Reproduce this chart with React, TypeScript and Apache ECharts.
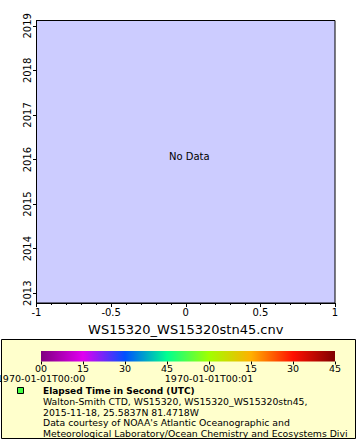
import React, { useEffect, useRef } from "react";
import * as echarts from "echarts";

const xTitle = "WS15320_WS15320stn45.cnv";
const xMin = -1;
const xMax = 1;
const yearTicks = [2013, 2014, 2015, 2016, 2017, 2018, 2019];
const yMin = 2012.78;
const yMax = 2019.12;
const seriesPoints: number[][] = [];
const colorbarSeconds = [0, 15, 30, 45, 60, 75, 90, 105];
const colorbarColors = ["#800080", "#e000f0", "#0050ff", "#00ff90", "#a0ff00", "#ffb000", "#ff1000", "#800000"];
const colorbarDateTicks = [0, 60];
const colorbarDateLabels = ["1970-01-01T00:00", "1970-01-01T00:01"];
const legendTitle = "Elapsed Time in Second (UTC)";
const legendLines = [
  "Walton-Smith CTD, WS15320, WS15320_WS15320stn45,",
  "2015-11-18, 25.5837N 81.4718W",
  "Data courtesy of NOAA's Atlantic Oceanographic and",
  "Meteorological Laboratory/Ocean Chemistry and Ecosystems Divi",
];
const noDataText = "No Data";

const FONT = "DejaVu Sans";

export default function App() {
  const ref = useRef<HTMLDivElement>(null);
  useEffect(() => {
    if (!ref.current) return;
    const chart = echarts.init(ref.current, undefined, { renderer: "svg" });
    const cbMax = colorbarSeconds[colorbarSeconds.length - 1];
    const gradient = new echarts.graphic.LinearGradient(
      0, 0, 1, 0,
      colorbarSeconds.map((s, i) => ({ offset: s / cbMax, color: colorbarColors[i] }))
    );
    const pad2 = (n: number) => (n < 10 ? "0" + n : "" + n);
    chart.setOption({
      animation: false,
      backgroundColor: "#ffffff",
      textStyle: { fontFamily: FONT },
      grid: [
        {
          left: 36.5, right: 25, top: 20.5, bottom: 137,
          show: true, backgroundColor: "#ccccff", borderColor: "#000", borderWidth: 1,
          containLabel: false, outerBoundsMode: "none",
        },
        {
          left: 41, width: 294, top: 351, height: 10.5,
          show: true, backgroundColor: gradient, borderWidth: 0,
          containLabel: false, outerBoundsMode: "none",
        },
      ],
      xAxis: [
        {
          gridIndex: 0, type: "value", min: xMin, max: xMax, interval: 0.5,
          name: xTitle, nameLocation: "middle", nameGap: 20,
          nameTextStyle: { fontFamily: FONT, fontSize: 13, color: "#000" },
          axisLine: { show: true, onZero: false, lineStyle: { color: "#000", width: 1 } },
          axisTick: { show: true, length: 4, lineStyle: { color: "#000" } },
          minorTick: { show: true, splitNumber: 5, length: 2, lineStyle: { color: "#000" } },
          splitLine: { show: false },
          axisLabel: { fontFamily: FONT, fontSize: 10, color: "#000", margin: 4 },
        },
        {
          gridIndex: 1, type: "value", min: 0, max: cbMax, interval: 15,
          axisLine: { show: false, onZero: false },
          axisTick: { show: true, length: 3, lineStyle: { color: "#000" } },
          splitLine: { show: false },
          axisLabel: {
            fontFamily: FONT, fontSize: 9.5, color: "#000", margin: 2,
            showMinLabel: true, showMaxLabel: true, hideOverlap: false, interval: 0,
            formatter: (v: number) => pad2(v % 60),
          },
        },
        {
          gridIndex: 1, type: "value", min: 0, max: cbMax, position: "bottom", offset: 10,
          axisLine: { show: false, onZero: false },
          axisTick: { show: false },
          splitLine: { show: false },
          axisLabel: {
            customValues: colorbarDateTicks, fontFamily: FONT, fontSize: 9.5, color: "#000", margin: 2,
            showMinLabel: true, showMaxLabel: true, hideOverlap: false,
            formatter: (v: number) => colorbarDateLabels[colorbarDateTicks.indexOf(v)] ?? "",
          },
        },
      ],
      yAxis: [
        {
          gridIndex: 0, type: "value", min: yMin, max: yMax,
          axisLine: { show: true, onZero: false, lineStyle: { color: "#000", width: 1 } },
          axisTick: { show: true, length: 3.5, customValues: yearTicks, lineStyle: { color: "#000" } },
          splitLine: { show: false },
          axisLabel: {
            customValues: yearTicks, rotate: 90, fontFamily: FONT, fontSize: 10, color: "#000", margin: 4,
            formatter: (v: number) => String(Math.round(v)),
          },
        },
        { gridIndex: 1, type: "value", min: 0, max: 1, show: false },
      ],
      series: [
        {
          type: "scatter", name: legendTitle, xAxisIndex: 0, yAxisIndex: 0,
          data: seriesPoints, symbolSize: 5, itemStyle: { color: "#44ff44" },
        },
      ],
      graphic: [
        {
          type: "text", left: 169, top: 151,
          style: { text: noDataText, font: `10px "${FONT}"`, fill: "#000" },
        },
        {
          type: "rect", shape: { x: 1.5, y: 339.5, width: 354, height: 99 },
          style: { fill: "#ffffcc", stroke: "#000", lineWidth: 1 }, z: -1,
        },
        {
          type: "rect", shape: { x: 17.5, y: 387.5, width: 6, height: 6 },
          style: { fill: "#44ff44", stroke: "#000", lineWidth: 1 },
        },
        {
          type: "text", x: 43, y: 391,
          style: { text: legendTitle, font: `bold 9px "${FONT}"`, fill: "#000", verticalAlign: "middle" },
        },
        ...legendLines.map((t, i) => ({
          type: "text", x: 43, y: 401.5 + i * 10.5,
          style: { text: t, font: `9.3px "${FONT}"`, fill: "#000", verticalAlign: "middle" },
        })),
      ],
    });
    return () => chart.dispose();
  }, []);
  return <div ref={ref} style={{ width: 360, height: 440, position: "absolute", left: 0, top: 0 }} />;
}
